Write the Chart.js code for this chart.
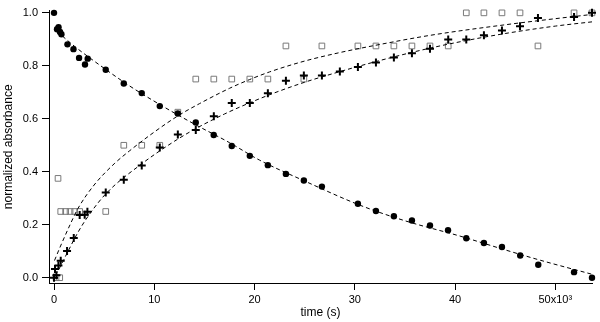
<!DOCTYPE html>
<html>
<head>
<meta charset="utf-8">
<script src="https://cdn.jsdelivr.net/npm/chart.js@4/dist/chart.umd.min.js"></script>
<style>
  body { margin: 0; background: #fff; }
  canvas { display: block; }
</style>
</head>
<body>
<canvas id="chart" width="600" height="322"></canvas>
<script>
// time in units of 10^3 s
const circleTime = [0.0, 0.3, 0.45, 0.6, 0.74, 1.34, 1.94, 2.5, 3.09, 3.36, 5.16, 6.96, 8.75, 10.55, 12.35,
    14.14, 15.93, 17.73, 19.53, 21.33, 23.13, 24.92, 26.72, 30.31, 32.11, 33.9, 35.7, 37.5, 39.3, 41.12,
    42.88, 44.68, 46.5, 48.3, 51.87, 53.66];
const circleValue = [1.0, 0.938, 0.946, 0.928, 0.919, 0.881, 0.863, 0.830, 0.805, 0.827, 0.785, 0.733, 0.697, 0.648, 0.620,
    0.586, 0.539, 0.497, 0.460, 0.425, 0.392, 0.367, 0.344, 0.279, 0.252, 0.232, 0.216, 0.197, 0.179, 0.149,
    0.131, 0.116, 0.084, 0.049, 0.021, 0.0];

const crossTime = [0.0, 0.1, 0.24, 0.44, 0.67, 1.3, 1.97, 2.56, 3.06, 3.33, 5.16, 6.96, 8.75, 10.55, 12.35,
    14.14, 15.94, 17.73, 19.53, 21.33, 23.13, 24.92, 26.72, 28.51, 30.31, 32.11, 33.9, 35.7, 37.5, 39.32,
    41.12, 42.88, 44.68, 46.48, 48.27, 51.87, 53.66];
const crossValue = [0.0, 0.033, 0.009, 0.046, 0.064, 0.101, 0.150, 0.237, 0.238, 0.249, 0.322, 0.370, 0.424, 0.492, 0.541,
    0.558, 0.610, 0.660, 0.660, 0.696, 0.744, 0.763, 0.763, 0.779, 0.796, 0.813, 0.831, 0.847, 0.864, 0.899,
    0.899, 0.915, 0.933, 0.949, 0.981, 0.984, 1.0];

const squareTime = [0.2, 0.4, 0.57, 0.67, 1.16, 1.6, 2.06, 2.56, 5.16, 6.96, 8.75, 10.55, 12.35, 14.14, 15.94,
    17.73, 19.53, 21.33, 23.13, 24.92, 26.72, 30.31, 32.11, 33.9, 35.7, 37.5, 39.32, 41.12, 42.88, 44.68,
    46.48, 48.27, 51.87, 53.66];
const squareValue = [0, 0.375, 0, 0.25, 0.25, 0.25, 0.25, 0.25, 0.25, 0.5, 0.5, 0.5, 0.625, 0.75, 0.75,
    0.75, 0.75, 0.75, 0.875, 0.75, 0.875, 0.875, 0.875, 0.875, 0.875, 0.875, 0.875, 1, 1, 1,
    1, 0.875, 1, 1];

// dashed fit curves
const decayFitTime = [0.3, 2, 4, 7.5, 10.5, 14, 17.5, 20.5, 25, 30.5, 35, 40.5, 45, 48.5, 53.66];
const decayFitValue = [0.93, 0.875, 0.818, 0.725, 0.655, 0.58, 0.51, 0.444, 0.365, 0.274, 0.215, 0.157, 0.105, 0.066, 0.013];

const squareFitTime = [0.05, 0.6, 1.6, 2.4, 4, 6, 7.5, 10, 12.4, 14.5, 17.5, 19.5, 21.5, 25, 28.5, 32, 37.5, 45, 50, 53.66];
const squareFitValue = [0.065, 0.115, 0.2, 0.262, 0.35, 0.43, 0.478, 0.55, 0.612, 0.657, 0.715, 0.748, 0.777, 0.818, 0.85, 0.877, 0.915, 0.955, 0.978, 0.994];

const crossFitTime = [0.15, 0.6, 1.4, 2.4, 3.4, 5.2, 8.75, 12, 14, 17, 19.5, 22, 25, 28.5, 32, 36.5, 40, 45, 50, 53.66];
const crossFitValue = [0.01, 0.04, 0.1, 0.172, 0.232, 0.318, 0.43, 0.515, 0.56, 0.618, 0.66, 0.698, 0.738, 0.778, 0.815, 0.858, 0.887, 0.922, 0.95, 0.966];

const xTicks = [0, 10, 20, 30, 40, 50];
const xTickLabels = ['0', '10', '20', '30', '40', '50x10\u00b3'];
const yTicks = [0, 0.2, 0.4, 0.6, 0.8, 1.0];

const toPoints = (xs, ys) => xs.map((x, i) => ({x: x, y: ys[i]}));

const fitLine = (xs, ys) => ({
    type: 'line',
    data: toPoints(xs, ys),
    showLine: true,
    borderColor: '#000',
    borderWidth: 1,
    borderDash: [4, 3],
    pointRadius: 0,
    fill: false,
    cubicInterpolationMode: 'monotone',
    clip: false
});

Chart.defaults.font.family = '"Liberation Sans", Arial, sans-serif';
Chart.defaults.font.size = 11;
Chart.defaults.color = '#000';

new Chart(document.getElementById('chart'), {
    type: 'scatter',
    data: {
        datasets: [
            fitLine(decayFitTime, decayFitValue),
            fitLine(squareFitTime, squareFitValue),
            fitLine(crossFitTime, crossFitValue),
            {
                data: toPoints(circleTime, circleValue),
                pointStyle: 'circle',
                pointRadius: 3.2,
                borderWidth: 0,
                backgroundColor: '#000',
                borderColor: '#000',
                clip: false
            },
            {
                data: toPoints(crossTime, crossValue),
                pointStyle: 'cross',
                pointRadius: 4,
                borderWidth: 2,
                borderColor: '#000',
                clip: false
            },
            {
                data: toPoints(squareTime, squareValue),
                pointStyle: 'rect',
                pointRadius: 4,
                borderWidth: 1,
                borderColor: '#7a7a7a',
                backgroundColor: 'rgba(255,255,255,0)',
                clip: false
            }
        ]
    },
    options: {
        responsive: false,
        animation: false,
        layout: {padding: {top: 5, right: 8, left: 0, bottom: 0}},
        plugins: {legend: {display: false}, tooltip: {enabled: false}},
        scales: {
            x: {
                type: 'linear',
                min: -0.5,
                max: 53.66,
                afterFit: s => { s.height = 39; },
                afterBuildTicks: s => { s.ticks = xTicks.map(v => ({value: v})); },
                ticks: {
                    padding: 3,
                    maxRotation: 0,
                    callback: (v, i) => xTickLabels[i]
                },
                grid: {drawOnChartArea: false, tickLength: 7, color: '#000'},
                border: {color: '#000', width: 1},
                title: {display: true, text: 'time (s)', font: {size: 12}, padding: {top: 0, bottom: 2}}
            },
            y: {
                min: -0.02,
                max: 1.0085,
                afterFit: s => { s.width = 49; },
                afterBuildTicks: s => { s.ticks = yTicks.map(v => ({value: v})); },
                ticks: {
                    padding: 4,
                    callback: v => v.toFixed(1)
                },
                grid: {drawOnChartArea: false, tickLength: 7, color: '#000'},
                border: {color: '#000', width: 1},
                title: {display: true, text: 'normalized absorbance', font: {size: 12}, padding: {top: 1, bottom: 0}}
            }
        }
    }
});
</script>
</body>
</html>
